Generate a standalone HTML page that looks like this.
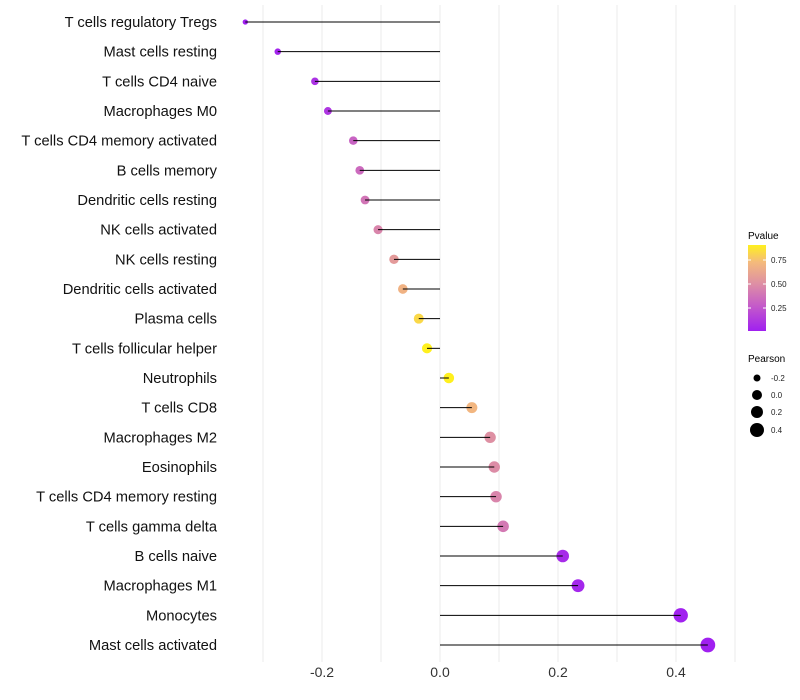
<!DOCTYPE html>
<html><head><meta charset="utf-8"><style>
body{margin:0;background:#fff;font-family:"Liberation Sans",sans-serif}
svg{display:block}
</style></head><body>
<svg id="chart" width="800" height="700" xmlns="http://www.w3.org/2000/svg">
<defs><linearGradient id="pg" x1="0" y1="1" x2="0" y2="0">
<stop offset="0" stop-color="#A020F0"/><stop offset="0.3" stop-color="#C55CC8"/><stop offset="0.55" stop-color="#DE8FA4"/><stop offset="0.8" stop-color="#F4BA7C"/><stop offset="1" stop-color="#FFF01E"/></linearGradient></defs>
<g id="grid"></g>
<g id="marks"></g>
<g id="ylab"></g>
<g id="xlab"></g>
<g>
<text x="748" y="239" font-size="10" fill="#000">Pvalue</text>
<rect x="748" y="245" width="18" height="86" fill="url(#pg)"/>
<line x1="748" y1="260" x2="751" y2="260" stroke="#fff"/><line x1="763" y1="260" x2="766" y2="260" stroke="#fff"/>
<line x1="748" y1="284" x2="751" y2="284" stroke="#fff"/><line x1="763" y1="284" x2="766" y2="284" stroke="#fff"/>
<line x1="748" y1="308" x2="751" y2="308" stroke="#fff"/><line x1="763" y1="308" x2="766" y2="308" stroke="#fff"/>
<text x="771" y="263" font-size="8" fill="#222">0.75</text>
<text x="771" y="287" font-size="8" fill="#222">0.50</text>
<text x="771" y="311" font-size="8" fill="#222">0.25</text>
</g>
<g>
<text x="748" y="362" font-size="10" fill="#000">Pearson</text>
<circle cx="757" cy="378" r="3.5"/><text x="771" y="381" font-size="8" fill="#222">-0.2</text>
<circle cx="757" cy="395" r="5"/><text x="771" y="398" font-size="8" fill="#222">0.0</text>
<circle cx="757" cy="412" r="6"/><text x="771" y="415" font-size="8" fill="#222">0.2</text>
<circle cx="757" cy="430" r="7"/><text x="771" y="433" font-size="8" fill="#222">0.4</text>
</g>
</svg>
<script>
const categories=["T cells regulatory  Tregs","Mast cells resting","T cells CD4 naive","Macrophages M0","T cells CD4 memory activated","B cells memory","Dendritic cells resting","NK cells activated","NK cells resting","Dendritic cells activated","Plasma cells","T cells follicular helper","Neutrophils","T cells CD8","Macrophages M2","Eosinophils","T cells CD4 memory resting","T cells gamma delta","B cells naive","Macrophages M1","Monocytes","Mast cells activated"];
const pearson=[-0.330,-0.275,-0.212,-0.190,-0.147,-0.136,-0.127,-0.105,-0.078,-0.063,-0.036,-0.022,0.015,0.054,0.085,0.092,0.095,0.107,0.208,0.234,0.408,0.454];
const pvalue=[0.0,0.02,0.08,0.1,0.3,0.33,0.38,0.45,0.55,0.68,0.82,0.9,0.93,0.7,0.5,0.48,0.45,0.4,0.05,0.03,0.005,0.001];
const xTicks=[-0.2,0.0,0.2,0.4];
const NS="http://www.w3.org/2000/svg";
const xs=v=>440+v*590;
const ys=i=>22+i*(623/21);
const rs=v=>Math.sqrt(Math.max(3,27+60*v));
function col(p){const t=Math.min(1,p/0.9);
 const st=[[0,[160,32,240]],[0.3,[197,92,200]],[0.55,[222,143,164]],[0.8,[244,186,124]],[1,[255,240,30]]];
 for(let k=1;k<st.length;k++){if(t<=st[k][0]){const a=st[k-1],b=st[k],f=(t-a[0])/(b[0]-a[0]);
 return "rgb("+a[1].map((c,j)=>Math.round(c+(b[1][j]-c)*f)).join(",")+")";}}return "rgb(255,240,30)";}
function mk(tag,at,par){const e=document.createElementNS(NS,tag);for(const k in at)e.setAttribute(k,at[k]);par.appendChild(e);return e;}
const grid=document.getElementById("grid"),marks=document.getElementById("marks"),yl=document.getElementById("ylab"),xl=document.getElementById("xlab");
[-0.3,-0.2,-0.1,0,0.1,0.2,0.3,0.4,0.5].forEach(v=>{const g=mk("line",{x1:xs(v),x2:xs(v),y1:5,y2:662,stroke:"#ebebeb","stroke-width":1},grid);

});
xTicks.forEach(v=>{const t=mk("text",{x:xs(v),y:677,"font-size":14,"text-anchor":"middle",fill:"#333"},xl);t.textContent=v.toFixed(1);

});
categories.forEach((c,i)=>{const y=ys(i);
 const t=mk("text",{x:217,y:y+5,"font-size":14.7,"text-anchor":"end",fill:"#111","xml:space":"preserve"},yl);t.textContent=c;
 
 
 const p=mk("circle",{cx:xs(pearson[i]),cy:y,r:rs(pearson[i]),fill:col(pvalue[i])},marks);
 
 
 const l=mk("line",{x1:xs(0),x2:xs(pearson[i]),y1:y,y2:y,stroke:"#000","stroke-width":1},marks);
 
 
});
</script>
</body></html>
